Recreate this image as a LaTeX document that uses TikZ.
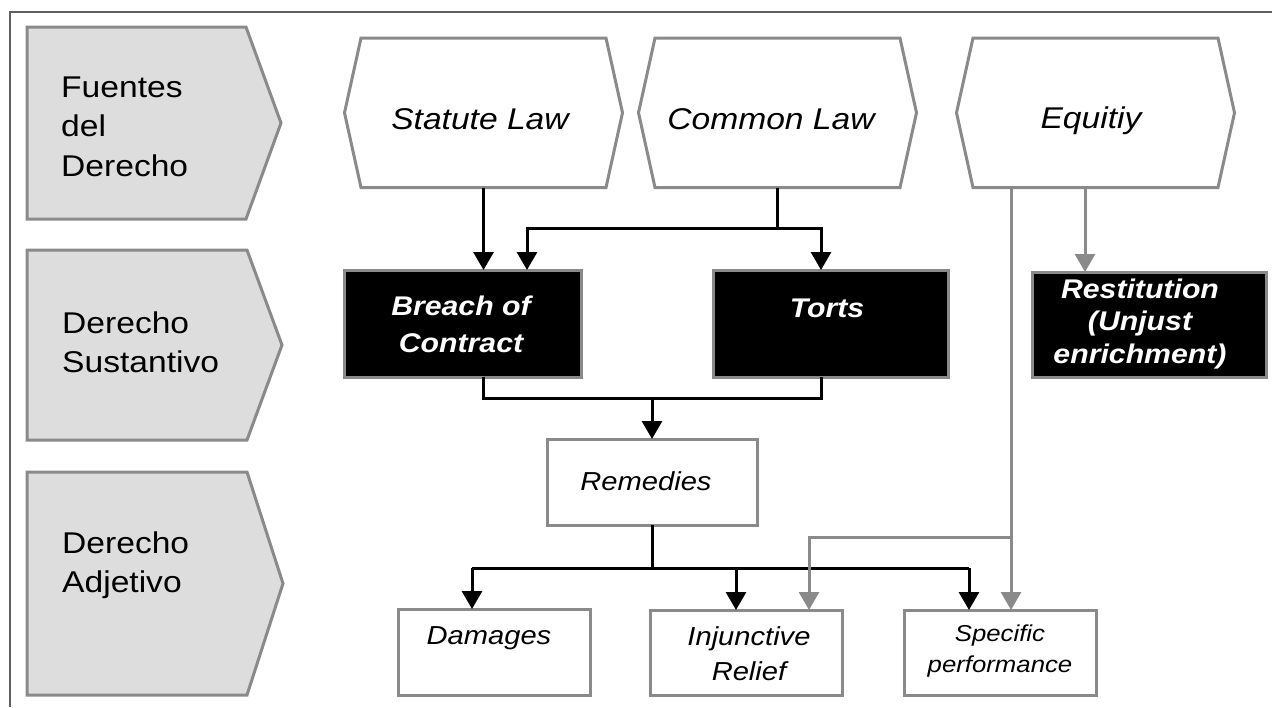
\documentclass[tikz,border=0pt]{standalone}
\usepackage{fontspec}
\setmainfont{Liberation Sans}[FakeStretch=1.12]
\usetikzlibrary{arrows.meta,calc}
\definecolor{chevfill}{HTML}{DDDDDD}
\definecolor{edgegray}{HTML}{8A8A8A}
\definecolor{framegray}{HTML}{606060}
\newcommand{\ml}[2]{\begin{tabular}[t]{@{}#1@{}}#2\end{tabular}}
\newcommand{\hexpath}[1]{\draw[hexa] (#1.west) -- ($(#1.north west)+(16.5,0)$) -- ($(#1.north east)+(-16.5,0)$) -- (#1.east) -- ($(#1.south east)+(-16.5,0)$) -- ($(#1.south west)+(16.5,0)$) -- cycle;}
\begin{document}
\begin{tikzpicture}[x=1pt,y=-1pt,
  chev/.style={fill=chevfill,draw=edgegray,line width=3pt},
  hexa/.style={fill=white,draw=edgegray,line width=3pt},
  hexbox/.style={rectangle,minimum width=278pt,minimum height=149.5pt,inner sep=0pt,outer sep=0pt},
  wbox/.style={rectangle,draw=edgegray,line width=3pt,fill=white,inner sep=0pt,outer sep=0pt},
  bbox/.style={wbox,fill=black},
  lbl/.style={inner sep=0pt,font=\fontsize{30}{39.5}\selectfont},
  hlbl/.style={inner sep=0pt,anchor=base,font=\fontsize{30}{36}\selectfont\itshape},
  blbl/.style={inner sep=0pt,anchor=base,text=white,font=\fontsize{27}{#1}\selectfont\bfseries\itshape},
  slbl/.style={inner sep=0pt,anchor=base,font=\fontsize{26}{#1}\selectfont\itshape},
  conn/.style={draw=black,line width=3pt},
  arr/.style={conn,-{Triangle[width=20pt,length=18pt]}},
  gconn/.style={draw=edgegray,line width=3pt},
  garr/.style={gconn,-{Triangle[width=20pt,length=18pt]}}]
\useasboundingbox (0,0) rectangle (1272,707);
% frame
\draw[framegray,line width=2pt] (10,707) -- (10,12) -- (1272,12);
% chevrons
\draw[chev] (27,27) -- (246,27) -- (281,123) -- (246,219) -- (27,219) -- cycle;
\draw[chev] (27,250) -- (247,250) -- (282,345) -- (247,440) -- (27,440) -- cycle;
\draw[chev] (27,472) -- (247,472) -- (283,583.5) -- (247,695) -- (27,695) -- cycle;
\node[lbl,anchor=base west] (fuentes) at (61,97) {\ml{l}{Fuentes\\del\\Derecho}};
\node[lbl,anchor=base west] (sustantivo) at (62,333) {\ml{l}{Derecho\\Sustantivo}};
\node[lbl,anchor=base west] (adjetivo) at (62,553) {\ml{l}{Derecho\\Adjetivo}};
% hexagons
\node[hexbox] (statute) at (483.5,112.75) {};
\node[hexbox] (common) at (777.5,112.75) {};
\node[hexbox] (equity) at (1095.5,112.75) {};
\hexpath{statute}
\hexpath{common}
\hexpath{equity}
\node[hlbl] (statutet) at (480,129) {Statute Law};
\node[hlbl] (commont) at (771,129) {Common Law};
\node[hlbl] (equityt) at (1091,128) {Equitiy};
% boxes
\node[bbox,minimum width=237pt,minimum height=107pt] (breach) at (462.5,323.5) {};
\node[bbox,minimum width=235pt,minimum height=107pt] (torts) at (830.5,323.5) {};
\node[bbox,minimum width=234pt,minimum height=105pt] (restit) at (1149,324.5) {};
\node[wbox,minimum width=210pt,minimum height=86pt] (remedies) at (652,482) {};
\node[wbox,minimum width=192pt,minimum height=86pt] (damages) at (494,652) {};
\node[wbox,minimum width=192pt,minimum height=85pt] (injunct) at (746,652.5) {};
\node[wbox,minimum width=192pt,minimum height=85pt] (specific) at (1000,652.5) {};
\node[blbl=37] (breacht) at (461,315) {\ml{c}{Breach of\\Contract}};
\node[blbl=37] (tortst) at (827,317) {Torts};
\node[blbl=32.5] (restitt) at (1140,298) {\ml{c}{Restitution\\(Unjust\\enrichment)}};
\node[slbl=35] (remediest) at (646,490) {Remedies};
\node[slbl=35] (damagest) at (489,644) {Damages};
\node[slbl=35] (injunctt) at (749,645) {\ml{c}{Injunctive\\Relief}};
\node[inner sep=0pt,anchor=base,font=\fontsize{23}{31}\selectfont\itshape] (specifict) at (1000,641) {\ml{c}{Specific\\performance}};
% black connectors
\coordinate (brA) at ($(breach.north)+(21,0)$);
\coordinate (brB) at ($(breach.north)+(64.5,0)$);
\coordinate (toA) at ($(torts.north)+(-9.5,0)$);
\draw[arr] (statute.south -| brA) -- (brA);
\coordinate (cj) at ($(common.south)+(0,40.5)$);
\draw[conn] (common.south) -- (cj);
\draw[arr] (cj) -| (brB);
\draw[arr] (cj) -| (toA);
\coordinate (brS) at ($(breach.south)+(20.5,0)$);
\coordinate (toS) at ($(torts.south)+(-9.5,0)$);
\coordinate (rj) at ($(brS)+(0,21)$);
\draw[conn] (brS) -- (rj) -| (toS);
\draw[arr] (rj -| remedies.north) -- (remedies.north);
\coordinate (bus) at ($(remedies.south)+(0,43)$);
\coordinate (dmA) at ($(damages.north)+(-22,0)$);
\coordinate (inA) at ($(injunct.north)+(-10,0)$);
\coordinate (spA) at ($(specific.north)+(-31,0)$);
\draw[conn] (remedies.south) -- (bus);
\draw[conn] (bus -| dmA) -- (bus -| spA);
\draw[arr] (bus -| dmA) -- (dmA);
\draw[arr] (bus -| inA) -- (inA);
\draw[arr] (bus -| spA) -- (spA);
% gray connectors
\coordinate (eqA) at ($(equity.south)+(-84.5,0)$);
\coordinate (eqB) at ($(equity.south)+(-10.5,0)$);
\coordinate (gj) at ($(eqA)+(0,349.5)$);
\coordinate (inG) at ($(injunct.north)+(63,0)$);
\draw[garr] (eqA) -- (eqA |- specific.north);
\draw[garr] (gj) -| (inG);
\draw[garr] (eqB) -- (eqB |- restit.north);
\end{tikzpicture}
\end{document}
